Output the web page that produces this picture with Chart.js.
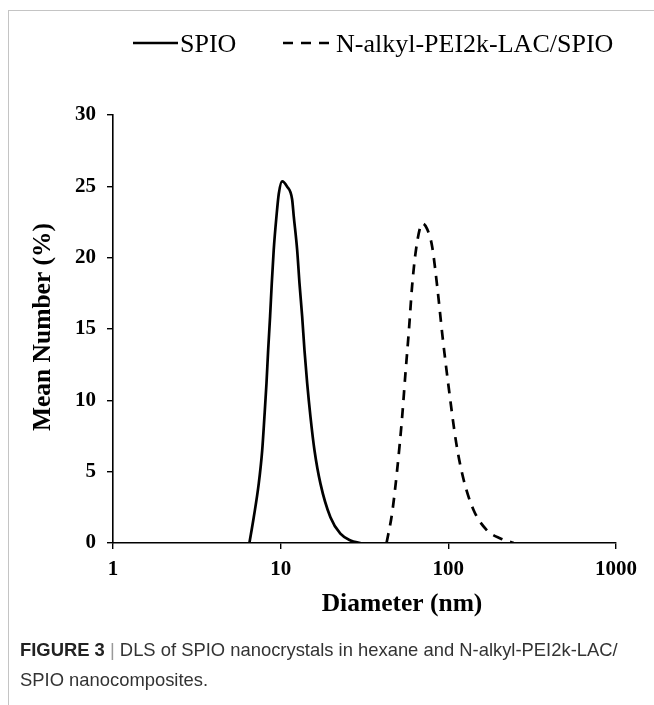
<!DOCTYPE html>
<html>
<head>
<meta charset="utf-8">
<script src="https://cdn.jsdelivr.net/npm/chart.js@4"></script>
<style>
html,body{margin:0;padding:0;background:#fff;}
body{width:654px;height:705px;position:relative;overflow:hidden;}
#frame{position:absolute;left:8px;top:10px;width:660px;height:720px;border-top:1px solid #c4c4c4;border-left:1px solid #c4c4c4;}
#wrap{position:absolute;left:0;top:0;width:654px;height:705px;}
#caption{position:absolute;left:20px;top:635px;width:630px;font-family:'Liberation Sans',Arial,sans-serif;font-size:18.4px;line-height:30px;color:#333;white-space:nowrap;}
#caption b{color:#222;}
#caption .sep{color:#999;}
</style>
</head>
<body>
<div id="frame"></div>
<div id="wrap"><canvas id="c" width="654" height="705"></canvas></div>
<div id="caption"><b>FIGURE 3</b> <span class="sep">|</span> DLS of SPIO nanocrystals in hexane and N-alkyl-PEI2k-LAC/<br>SPIO nanocomposites.</div>
<script>
// ---- data ----
const xTicks = [1, 10, 100, 1000];
const yTicks = [0, 5, 10, 15, 20, 25, 30];
const seriesLabels = ['SPIO', 'N-alkyl-PEI2k-LAC/SPIO'];
const xTitle = 'Diameter (nm)';
const yTitle = 'Mean Number (%)';

const spioDiameter = [6.51, 6.91, 7.40, 7.76, 8.00, 8.23, 8.42, 8.65, 8.85, 9.09, 9.44, 9.75, 10.2, 10.9, 11.7, 11.97, 12.54, 12.95, 13.43, 13.87, 14.39, 15.06, 15.91, 17.27, 19.8, 22.7, 26.1, 29.9];
const spioNumber   = [0, 1.8, 4.16, 6.5, 8.84, 11.2, 13.5, 15.9, 18.2, 20.55, 22.9, 24.5, 25.35, 25.0, 24.1, 22.9, 20.55, 18.2, 15.9, 13.5, 11.2, 8.84, 6.5, 4.16, 1.8, 0.65, 0.18, 0];

const compDiameter = [42.8, 46.2, 49.5, 53.0, 55.5, 58.1, 60.8, 63.7, 68.2, 70.2, 74.8, 80.0, 85.8, 92.5, 100.5, 111.5, 123.6, 141.6, 170.3, 204.6, 245.5];
const compNumber   = [0, 2.1, 5.1, 8.8, 11.9, 14.8, 18.0, 20.3, 22.2, 22.4, 22.0, 20.8, 18.0, 14.4, 10.9, 7.0, 4.4, 2.3, 0.88, 0.32, 0];

// ---- helpers ----
const pts = (xs, ys) => xs.map((x, i) => ({ x: x, y: ys[i] }));
const SERIF = "'Liberation Serif','Times New Roman',serif";

const customLegend = {
  id: 'customLegend',
  afterDraw(chart, args, opts) {
    const ctx = chart.ctx;
    ctx.save();
    ctx.font = opts.font;
    ctx.fillStyle = '#000';
    ctx.textBaseline = 'alphabetic';
    ctx.textAlign = 'left';
    chart.data.datasets.forEach((ds, i) => {
      const it = opts.items[i];
      ctx.save();
      ctx.strokeStyle = ds.borderColor;
      ctx.lineWidth = ds.borderWidth;
      ctx.setLineDash(ds.borderDash || []);
      ctx.beginPath();
      ctx.moveTo(it.x0, opts.lineY);
      ctx.lineTo(it.x1, opts.lineY);
      ctx.stroke();
      ctx.restore();
      ctx.fillText(ds.label, it.tx, opts.textY);
    });
    ctx.restore();
  }
};

const axisTitles = {
  id: 'axisTitles',
  afterDraw(chart, args, opts) {
    const ctx = chart.ctx;
    ctx.save();
    ctx.font = opts.font;
    ctx.fillStyle = '#000';
    ctx.textAlign = 'center';
    ctx.textBaseline = 'alphabetic';
    ctx.fillText(opts.x.text, opts.x.cx, opts.x.baseline);
    ctx.translate(opts.y.baseline, opts.y.cy);
    ctx.rotate(-Math.PI / 2);
    ctx.fillText(opts.y.text, 0, 0);
    ctx.restore();
  }
};

new Chart(document.getElementById('c'), {
  type: 'line',
  data: {
    datasets: [
      {
        label: seriesLabels[0],
        data: pts(spioDiameter, spioNumber),
        borderColor: '#000',
        backgroundColor: '#000',
        borderWidth: 2.7,
        pointRadius: 0,
        tension: 0.4,
        cubicInterpolationMode: 'monotone',
        fill: false
      },
      {
        label: seriesLabels[1],
        data: pts(compDiameter, compNumber),
        borderColor: '#000',
        backgroundColor: '#000',
        borderWidth: 2.7,
        borderDash: [10, 8],
        pointRadius: 0,
        tension: 0.4,
        cubicInterpolationMode: 'monotone',
        fill: false
      }
    ]
  },
  options: {
    responsive: false,
    animation: false,
    devicePixelRatio: 1,
    layout: { padding: { top: 115, right: 38, bottom: 0, left: 0 } },
    plugins: {
      legend: { display: false },
      tooltip: { enabled: false },
      customLegend: {
        font: "26px " + SERIF,
        lineY: 43,
        textY: 51.5,
        items: [ { x0: 133, x1: 178, tx: 180 }, { x0: 283, x1: 330, tx: 336 } ]
      },
      axisTitles: {
        font: "bold 25.5px " + SERIF,
        x: { text: xTitle, cx: 402, baseline: 611 },
        y: { text: yTitle, cy: 327, baseline: 50 }
      }
    },
    scales: {
      x: {
        type: 'logarithmic',
        min: 1,
        max: 1000,
        afterBuildTicks: (s) => { s.ticks = xTicks.map(v => ({ value: v })); },
        afterFit: (s) => { s.height = 162; },
        ticks: {
          color: '#000',
          font: { family: SERIF, size: 21, weight: 'bold' },
          padding: 8,
          maxRotation: 0,
          autoSkip: false,
          callback: (v) => String(v)
        },
        grid: { display: true, drawOnChartArea: false, drawTicks: true, tickLength: 6, color: '#000', lineWidth: 1.4 },
        border: { display: true, color: '#000', width: 1.6 },
        title: { display: false }
      },
      y: {
        min: 0,
        max: 30,
        afterBuildTicks: (s) => { s.ticks = yTicks.map(v => ({ value: v })); },
        afterFit: (s) => { s.width = 113; },
        ticks: {
          color: '#000',
          font: { family: SERIF, size: 21, weight: 'bold' },
          padding: 11,
          callback: (v) => String(v)
        },
        grid: { display: true, drawOnChartArea: false, drawTicks: true, tickLength: 6, color: '#000', lineWidth: 1.4 },
        border: { display: true, color: '#000', width: 1.6 },
        title: { display: false }
      }
    }
  },
  plugins: [customLegend, axisTitles]
});
</script>
</body>
</html>
